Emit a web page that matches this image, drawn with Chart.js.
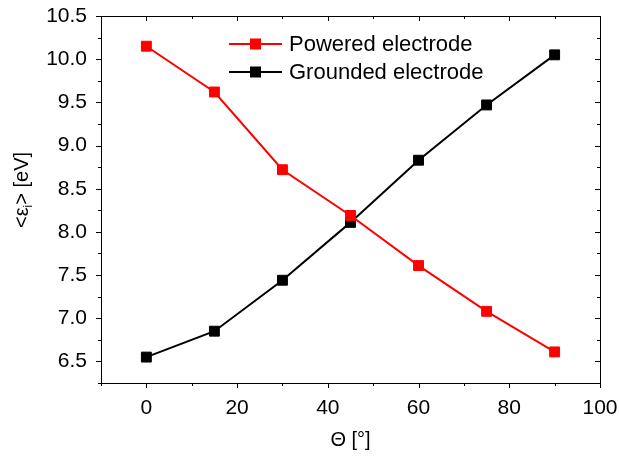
<!DOCTYPE html>
<html>
<head>
<meta charset="utf-8">
<script src="https://cdn.jsdelivr.net/npm/chart.js@4.4.1/dist/chart.umd.min.js"></script>
<style>
  html, body { margin: 0; padding: 0; background: #fff; }
  #wrap { width: 619px; height: 460px; }
</style>
</head>
<body>
<div id="wrap"><canvas id="myChart"></canvas></div>
<script>
const ANGLES = [0, 15, 30, 45, 60, 75, 90];
const POWERED = [10.15, 9.62, 8.72, 8.19, 7.61, 7.08, 6.61];
const GROUNDED = [6.55, 6.85, 7.44, 8.11, 8.83, 9.47, 10.05];
const SERIES_NAMES = ['Powered electrode', 'Grounded electrode'];
const SERIES_COLORS = ['#ff0000', '#000000'];
const X_TICKS = [0, 20, 40, 60, 80, 100];
const Y_TICKS = [6.5, 7.0, 7.5, 8.0, 8.5, 9.0, 9.5, 10.0, 10.5];

const FONT = "'Liberation Sans', Arial, sans-serif";

const toPoints = (ys) => ANGLES.map((x, i) => ({ x: x, y: ys[i] }));

// ticks on all four sides, minor ticks in between, plus the box
const frameTicks = {
  id: 'frameTicks',
  afterDraw(chart) {
    const ctx = chart.ctx;
    const a = chart.chartArea;
    const xs = chart.scales.x, ys = chart.scales.y;
    ctx.save();
    ctx.strokeStyle = '#000';
    ctx.lineWidth = 1;
    ctx.beginPath();
    ctx.rect(Math.round(a.left) + 0.5, Math.round(a.top) + 0.5,
             Math.round(a.right - a.left), Math.round(a.bottom - a.top));
    for (let v = -10; v <= 100; v += 10) {
      const px = Math.round(xs.getPixelForValue(v)) + 0.5;
      const len = v % 20 === 0 ? 5 : 3;
      ctx.moveTo(px, a.bottom); ctx.lineTo(px, a.bottom + len);
      ctx.moveTo(px, a.top); ctx.lineTo(px, a.top + len);
    }
    for (let i = 0; i <= 17; i++) {
      const v = 6.25 + i * 0.25;
      const py = Math.round(ys.getPixelForValue(v)) + 0.5;
      const len = i % 2 === 1 ? 5 : 3;
      ctx.moveTo(a.left, py); ctx.lineTo(a.left - len, py);
      ctx.moveTo(a.right, py); ctx.lineTo(a.right - len, py);
    }
    ctx.stroke();

    // legend
    ctx.font = '22px ' + FONT;
    ctx.textBaseline = 'middle';
    ctx.textAlign = 'left';
    const rows = [44, 72];
    SERIES_NAMES.forEach((name, i) => {
      const y = rows[i];
      ctx.strokeStyle = SERIES_COLORS[i];
      ctx.fillStyle = SERIES_COLORS[i];
      ctx.lineWidth = 2;
      ctx.beginPath();
      ctx.moveTo(229, y); ctx.lineTo(282, y);
      ctx.stroke();
      ctx.fillRect(250, y - 5.5, 11, 11);
      ctx.fillStyle = '#000';
      ctx.fillText(name, 289, y + 1);
    });

    // y title with subscript
    ctx.translate(22, 190);
    ctx.rotate(-Math.PI / 2);
    const big = '20px ' + FONT, small = '12px ' + FONT;
    ctx.font = big;
    const w1 = ctx.measureText('<\u03b5').width;
    const w3 = ctx.measureText('> [eV]').width;
    ctx.font = small;
    const w2 = ctx.measureText('i').width;
    let x0 = -(w1 + w2 + w3) / 2;
    ctx.fillStyle = '#000';
    ctx.textBaseline = 'middle';
    ctx.font = big;
    ctx.fillText('<\u03b5', x0, 0);
    ctx.font = small;
    ctx.fillText('i', x0 + w1, 7);
    ctx.font = big;
    ctx.fillText('> [eV]', x0 + w1 + w2, 0);
    ctx.restore();
  }
};

const data = {
  datasets: [
    {
      label: SERIES_NAMES[0],
      data: toPoints(POWERED),
      borderColor: SERIES_COLORS[0],
      backgroundColor: SERIES_COLORS[0],
      borderWidth: 2,
      pointStyle: 'rect',
      pointRadius: 7,
      pointBorderWidth: 1,
      tension: 0
    },
    {
      label: SERIES_NAMES[1],
      data: toPoints(GROUNDED),
      borderColor: SERIES_COLORS[1],
      backgroundColor: SERIES_COLORS[1],
      borderWidth: 2,
      pointStyle: 'rect',
      pointRadius: 7,
      pointBorderWidth: 1,
      tension: 0
    }
  ]
};

// invisible tick marks only used to push the labels away from the axis
const hiddenGrid = (len) => ({
  display: true,
  drawOnChartArea: false,
  drawTicks: true,
  tickLength: len,
  tickColor: 'rgba(0,0,0,0)'
});

const CONFIG = {
  type: 'line',
  data: data,
  options: {
    responsive: true,
    maintainAspectRatio: false,
    animation: false,
    layout: { padding: { left: 0, right: 19, top: 16, bottom: 0 } },
    plugins: {
      legend: { display: false },
      tooltip: { enabled: false }
    },
    scales: {
      x: {
        type: 'linear',
        min: -10,
        max: 100,
        afterBuildTicks: (s) => { s.ticks = X_TICKS.map(v => ({ value: v })); },
        afterFit: (s) => { s.height = 77; },
        grid: hiddenGrid(13),
        border: { display: false },
        ticks: {
          padding: 0,
          color: '#000',
          font: { family: FONT, size: 21 },
          maxRotation: 0,
          autoSkip: false
        },
        title: {
          display: true,
          text: '\u0398 [\u00b0]',
          color: '#000',
          font: { family: FONT, size: 20 },
          padding: { top: 0, bottom: 8 }
        }
      },
      y: {
        min: 6.25,
        max: 10.5,
        afterBuildTicks: (s) => { s.ticks = Y_TICKS.map(v => ({ value: v })); },
        afterFit: (s) => { s.width = 101; },
        grid: hiddenGrid(14),
        border: { display: false },
        ticks: {
          padding: 0,
          color: '#000',
          font: { family: FONT, size: 21 },
          autoSkip: false,
          callback: (v) => v.toFixed(1)
        }
      }
    }
  },
  plugins: [frameTicks]
};

const chart = new Chart(document.querySelector('#myChart'), CONFIG);
</script>
</body>
</html>
